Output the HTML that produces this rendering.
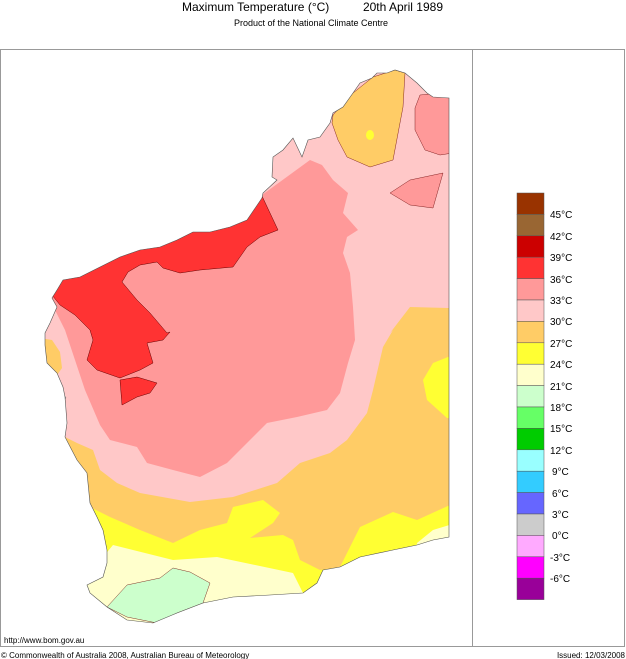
<!DOCTYPE html>
<html><head><meta charset="utf-8"><style>
html,body{margin:0;padding:0;background:#fff;}
body{width:626px;height:659px;overflow:hidden;position:relative;font-family:"Liberation Sans",Arial,sans-serif;}
</style></head><body>
<svg width="626" height="659" viewBox="0 0 626 659" xmlns="http://www.w3.org/2000/svg" style="position:absolute;left:0;top:0">
<defs>
<clipPath id="land"><path id="lp" d="M262,198 L247,220 L230,227 L210,232 L193,232 L177,240 L160,247 L140,250 L120,257 L100,267 L80,277 L63,280 L57,290 L52,298 L57,307 L50,323 L45,333 L45,345 L47,363 L57,373 L63,387 L65,397 L67,423 L65,437 L77,460 L87,473 L90,503 L97,517 L103,530 L107,550 L107,563 L103,577 L87,585 L90,593 L107,607 L127,620 L153,623 L177,613 L203,603 L233,597 L270,595 L303,593 L317,583 L323,570 L340,567 L360,557 L393,550 L417,545 L433,540 L449,537 L449,98 L433,97 L427,93 L417,83 L405,73 L395,70 L387,73 L377,73 L372,78 L360,83 L353,93 L343,107 L333,113 L330,123 L320,137 L308,140 L302,157 L293,138 L283,150 L273,157 L272,177 L277,180 L263,193 Z"/></clipPath>
</defs>
<g clip-path="url(#land)">
<rect x="0" y="50" width="472" height="600" fill="#ffcc66"/>
<path fill="#ffc8c8" d="M0,50 L472,50 L472,308 L448,308 L410,307 L390,333 L393,330 L383,347 L373,390 L367,413 L347,440 L330,453 L300,463 L277,483 L233,497 L190,502 L140,493 L117,483 L100,470 L93,450 L77,443 L65,437 L0,437 Z"/>
<path fill="#ffcc66" d="M40,338 L52,340 L60,352 L62,368 L55,378 L40,378 Z"/>
<path fill="#ff9999" d="M0,250 L262,195 L310,160 L322,165 L333,180 L348,193 L343,213 L358,230 L347,237 L343,253 L350,273 L353,307 L355,340 L348,363 L340,393 L327,410 L297,417 L267,423 L245,445 L227,463 L200,477 L173,470 L147,463 L137,447 L110,440 L100,425 L85,390 L75,360 L65,330 L55,310 L0,300 Z"/>
<path fill="#ff3333" stroke="#600" stroke-width="0.5" d="M0,240 L262,196 L270,213 L278,230 L260,237 L247,247 L233,267 L200,270 L180,273 L163,268 L157,262 L140,265 L128,272 L122,282 L137,300 L150,313 L167,333 L170,332 L163,340 L147,343 L153,363 L140,370 L120,378 L97,370 L87,360 L93,340 L90,330 L75,315 L60,305 L52,295 L0,290 Z"/>
<path fill="#ff3333" stroke="#600" stroke-width="0.5" d="M120,380 L137,377 L157,383 L150,393 L137,397 L122,405 Z"/>
<path fill="#ffcc66" stroke="#600" stroke-width="0.4" d="M333,115 L353,93 L373,77 L395,70 L405,73 L403,107 L393,160 L370,167 L347,157 L338,140 L332,123 Z"/>
<ellipse cx="370" cy="135" rx="4" ry="5" fill="#ffff33"/>
<path fill="#ff9999" stroke="#600" stroke-width="0.4" d="M415,108 L420,95 L472,90 L472,150 L440,155 L425,150 L415,130 Z"/>
<path fill="#ff9999" stroke="#600" stroke-width="0.4" d="M390,193 L410,180 L443,173 L433,208 L410,205 Z"/>
<path fill="#ffff33" d="M472,355 L448,357 L433,363 L423,380 L427,400 L447,418 L472,420 Z"/>
<path fill="#ffff33" d="M0,500 L90,507 L110,517 L140,530 L173,543 L200,530 L227,523 L233,507 L263,500 L280,513 L273,523 L250,538 L283,535 L293,540 L300,560 L320,570 L340,567 L360,527 L393,512 L417,520 L472,495 L472,660 L0,660 Z"/>
<path fill="#ffffcc" d="M417,543 L433,530 L472,518 L472,660 L400,660 Z"/>
<path fill="#ffffcc" d="M0,555 L103,557 L113,545 L133,550 L173,560 L217,557 L293,573 L303,593 L303,660 L0,660 Z"/>
<path fill="#ccffcc" stroke="#600" stroke-width="0.4" d="M107,607 L127,585 L160,578 L173,568 L190,572 L210,583 L203,603 L177,613 L157,623 L127,617 Z"/>
<!-- Shark Bay inlets -->
<path fill="#fff" stroke="#555" stroke-width="0.5" d="M52,370 L58,378 L62,392 L66,398 L62,400 L55,388 L50,378 Z"/>
</g>
<use href="#lp" fill="none" stroke="#555" stroke-width="0.6"/>
<rect x="0.5" y="49.5" width="624" height="597" fill="none" stroke="#999" stroke-width="1"/>
<line x1="472.5" y1="50" x2="472.5" y2="647" stroke="#999"/>
<g stroke="#555" stroke-width="0.5">
<rect x="517" y="193" width="27" height="21.4" fill="#993300"/>
<rect x="517" y="214.4" width="27" height="21.4" fill="#996633"/>
<rect x="517" y="235.8" width="27" height="21.4" fill="#cc0000"/>
<rect x="517" y="257.2" width="27" height="21.4" fill="#ff3333"/>
<rect x="517" y="278.6" width="27" height="21.4" fill="#ff9999"/>
<rect x="517" y="300" width="27" height="21.4" fill="#ffc8c8"/>
<rect x="517" y="321.4" width="27" height="21.4" fill="#ffcc66"/>
<rect x="517" y="342.8" width="27" height="21.4" fill="#ffff33"/>
<rect x="517" y="364.2" width="27" height="21.4" fill="#ffffcc"/>
<rect x="517" y="385.6" width="27" height="21.4" fill="#ccffcc"/>
<rect x="517" y="407" width="27" height="21.4" fill="#66ff66"/>
<rect x="517" y="428.4" width="27" height="21.4" fill="#00cc00"/>
<rect x="517" y="449.8" width="27" height="21.4" fill="#99ffff"/>
<rect x="517" y="471.2" width="27" height="21.4" fill="#33ccff"/>
<rect x="517" y="492.6" width="27" height="21.4" fill="#6666ff"/>
<rect x="517" y="514" width="27" height="21.4" fill="#cccccc"/>
<rect x="517" y="535.4" width="27" height="21.4" fill="#ffaaff"/>
<rect x="517" y="556.8" width="27" height="21.4" fill="#ff00ff"/>
<rect x="517" y="578.2" width="27" height="21.4" fill="#990099"/>
</g>
<g font-size="10" fill="#000" font-family="Liberation Sans, Arial, sans-serif">
<text x="550" y="218">45°C</text>
<text x="550" y="240">42°C</text>
<text x="550" y="261">39°C</text>
<text x="550" y="283">36°C</text>
<text x="550" y="304">33°C</text>
<text x="550" y="325">30°C</text>
<text x="550" y="347">27°C</text>
<text x="550" y="368">24°C</text>
<text x="550" y="390">21°C</text>
<text x="550" y="411">18°C</text>
<text x="550" y="432">15°C</text>
<text x="550" y="454">12°C</text>
<text x="552" y="475">9°C</text>
<text x="552" y="497">6°C</text>
<text x="552" y="518">3°C</text>
<text x="552" y="539">0°C</text>
<text x="550" y="561">-3°C</text>
<text x="550" y="582">-6°C</text>
</g>
<text x="182" y="11" font-size="12" fill="#000">Maximum Temperature (°C)</text>
<text x="443" y="11" font-size="12" fill="#000" text-anchor="end">20th April 1989</text>
<text x="311" y="26" font-size="9" fill="#000" text-anchor="middle">Product of the National Climate Centre</text>
<text x="4" y="643" font-size="8" fill="#000">http://www.bom.gov.au</text>
<text x="1" y="658" font-size="8" fill="#000">© Commonwealth of Australia 2008, Australian Bureau of Meteorology</text>
<text x="625" y="658" font-size="8" fill="#000" text-anchor="end">Issued: 12/03/2008</text>
</svg>
</body></html>
